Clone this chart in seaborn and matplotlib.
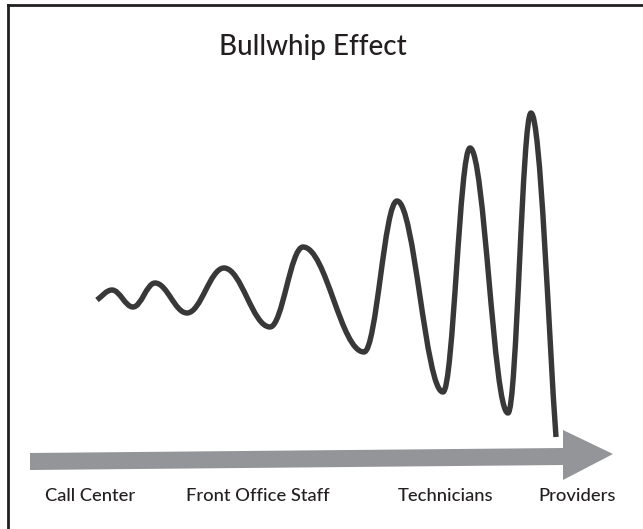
import matplotlib
matplotlib.use("Agg")
import matplotlib.pyplot as plt
from matplotlib.path import Path
from matplotlib.patches import PathPatch, Polygon
import seaborn as sns

# ---- data (in chart units: x along the chain, y = demand swing, down is larger) ----
title = "Bullwhip Effect"
stage_labels = ["Call Center", "Front Office Staff", "Technicians", "Providers"]
stage_pos = [90, 258, 445, 577]

# extrema of the demand signal (start point, alternating peaks/troughs, end point)
wave_x = [97, 112, 133, 155, 187, 224, 270, 303, 364, 397, 443, 470, 508, 531, 556]
wave_y = [300, 290, 307, 283, 313, 268, 327, 247, 352, 201, 392, 148, 413, 113, 437]

# flow arrow outline (shaft start / head)
arrow_x = [30, 563, 563, 613, 563, 563, 30]
arrow_y = [453, 448, 430, 454, 480, 465, 470]

sns.set_style("white")
plt.rcParams["font.family"] = ["Lato", "DejaVu Sans"]

W, H = 643, 529
fig = plt.figure(figsize=(W / 100, H / 100), dpi=100)
ax = fig.add_axes([8 / W, 0, (W - 8) / W, (H - 5) / H])
ax.set_xlim(8, W)
ax.set_ylim(H, 5)
ax.set_xticks([])
ax.set_yticks([])
for s in ["right", "bottom"]:
    ax.spines[s].set_visible(False)
for s in ["left", "top"]:
    ax.spines[s].set_visible(True)
    ax.spines[s].set_linewidth(2.0)
    ax.spines[s].set_color("#231f20")

# smooth wave: cubic Bezier segments with horizontal tangents at the extrema
k = 0.38
verts = [(wave_x[0], wave_y[0])]
codes = [Path.MOVETO]
n = len(wave_x)
for i in range(n - 1):
    x0, y0, x1, y1 = wave_x[i], wave_y[i], wave_x[i + 1], wave_y[i + 1]
    dx = x1 - x0
    if i == 0:
        c1 = (x0 + 0.3 * dx, y0 - 0.3 * dx * 0.7)
    else:
        c1 = (x0 + k * dx, y0)
    if i == n - 2:
        c2 = (x1 - 0.073 * 100, y1 - 100)
    else:
        c2 = (x1 - k * dx, y1)
    verts += [c1, c2, (x1, y1)]
    codes += [Path.CURVE4, Path.CURVE4, Path.CURVE4]
ax.add_patch(PathPatch(Path(verts, codes), facecolor="none", edgecolor="#383838",
                       lw=3.9, capstyle="butt", joinstyle="round"))

ax.add_patch(Polygon(list(zip(arrow_x, arrow_y)), closed=True, facecolor="#949599",
                     edgecolor="none"))

ax.text(312.5, 55, title, ha="center", va="baseline", fontsize=20,
        fontweight="medium", color="#231f20")
for lab, xp in zip(stage_labels, stage_pos):
    ax.text(xp, 501, lab, ha="center", va="baseline", fontsize=13.2,
            fontweight="medium", color="#231f20")

fig.savefig("out.png", dpi=100)
